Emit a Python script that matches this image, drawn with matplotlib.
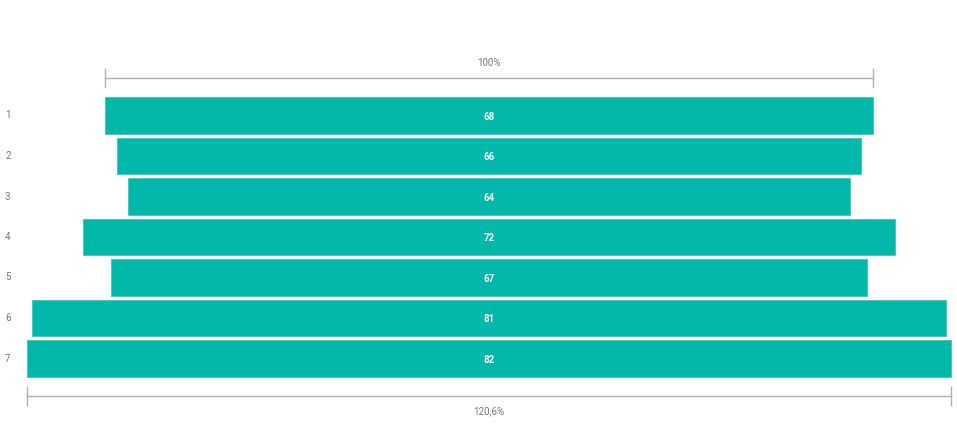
import matplotlib.pyplot as plt
import matplotlib.transforms as mtransforms

# 漏斗图数据
stages = ['1', '2', '3', '4', '5', '6', '7']
values = [68, 66, 64, 72, 67, 81, 82]

teal = '#01B8AA'
grey_line = '#b0b0b0'
grey_text = '#777777'

plt.rcParams['font.family'] = ['Roboto', 'DejaVu Sans']

fig = plt.figure(figsize=(9.57, 4.42), dpi=100)
ax = fig.add_axes([0, 0, 1, 1])

px_per_unit = 11.28
center_px = 489
ax.set_xlim(-center_px / px_per_unit, (957 - center_px) / px_per_unit)
pitch = 40.5
first_px = 115.5
ax.set_ylim((442 - first_px) / pitch, -first_px / pitch)
ax.axis('off')

ys = list(range(len(values)))
lefts = [-v / 2 for v in values]
ax.barh(ys, values, left=lefts, height=0.89, color=teal, edgecolor='#3cc9bd', linewidth=0.6)

for y, v in zip(ys, values):
    ax.text(0, y + 0.03, str(v), ha='center', va='center', color='white',
            fontsize=7, fontweight='bold')

trans = mtransforms.blended_transform_factory(ax.transAxes, ax.transData)
for y, s in zip(ys, stages):
    ax.text(5 / 957, y, s, transform=trans, ha='left', va='center',
            color=grey_text, fontsize=7)

# 顶部与底部的比例标尺
first, last = values[0], values[-1]
top_y = (78 - first_px) / pitch
bot_y = (396 - first_px) / pitch
tick = 0.22

ax.plot([-first / 2, first / 2], [top_y, top_y], color=grey_line, lw=1)
for x in (-first / 2, first / 2):
    ax.plot([x, x], [top_y - tick, top_y + tick], color=grey_line, lw=1)
ax.text(0, top_y - 0.36, '100%', ha='center', va='center', color=grey_text, fontsize=7)

ax.plot([-last / 2, last / 2], [bot_y, bot_y], color=grey_line, lw=1)
for x in (-last / 2, last / 2):
    ax.plot([x, x], [bot_y - tick, bot_y + tick], color=grey_line, lw=1)
pct = f'{last / first * 100:.1f}'.replace('.', ',') + '%'
ax.text(0, bot_y + 0.37, pct, ha='center', va='center', color=grey_text, fontsize=7)

fig.savefig('out.png', dpi=100)
